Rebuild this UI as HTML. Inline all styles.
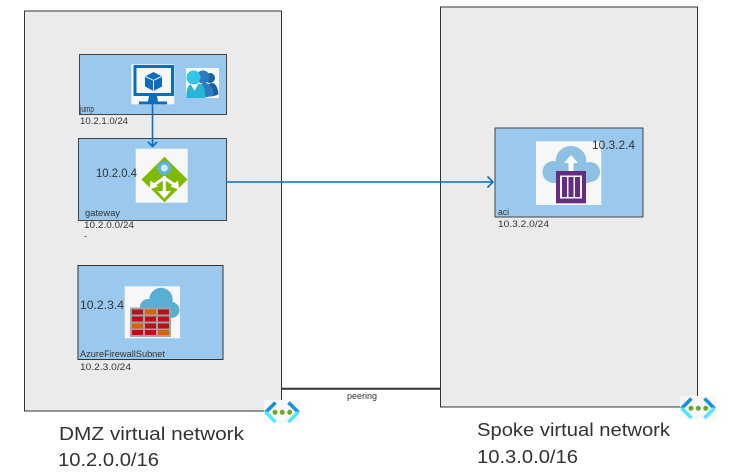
<!DOCTYPE html>
<html><head><meta charset="utf-8"><style>
html,body{margin:0;padding:0;background:#fff;width:731px;height:476px;overflow:hidden}
svg{display:block}
text{font-family:"Liberation Sans",sans-serif;fill:#333}
</style></head><body>
<svg width="731" height="476" viewBox="0 0 731 476" xmlns="http://www.w3.org/2000/svg">
<rect x="24.5" y="11" width="257" height="400" fill="#ebebeb" stroke="#333" stroke-width="1"/>
<rect x="440.5" y="7" width="257" height="400" fill="#ebebeb" stroke="#333" stroke-width="1"/>
<line x1="281" y1="388.7" x2="441" y2="388.7" stroke="#333" stroke-width="2"/>
<text x="347" y="399" font-size="9" textLength="30" lengthAdjust="spacingAndGlyphs" fill="#555">peering</text>

<rect x="79.5" y="54.5" width="147" height="60" fill="#9bc9ee" stroke="#444"/>
<rect x="78.5" y="138.5" width="148" height="82" fill="#9bc9ee" stroke="#444"/>
<rect x="78" y="265.5" width="145" height="94" fill="#9bc9ee" stroke="#333"/>
<rect x="495" y="128" width="148" height="89" fill="#9bc9ee" stroke="#444"/>

<!-- VM -->
<rect x="131.3" y="64.3" width="43" height="40" fill="#f7f7f7"/>
<rect x="135" y="66.500" width="37.500" height="28" fill="#f7f7f7" stroke="#0a6ebd" stroke-width="3"/>
<path d="M149 96h8l1 6h-10z" fill="#0a6ebd"/>
<rect x="139" y="101.500" width="28" height="2.800" fill="#0a6ebd"/>
<path d="M153.500 72l8.500 4.500v10l-8.500 4.500-8.500-4.500v-10z" fill="#0a6ebd"/>
<path d="M145.500 76.500l8 4 8-4M153.500 80.500v10" fill="none" stroke="#f7f7f7" stroke-width="1"/>
<!-- Users -->
<rect x="186" y="68" width="33" height="30" fill="#f2f7fa"/>
<circle cx="210" cy="78" r="5" fill="#1c5f9e"/>
<path d="M205 96c1-8 3-13 7-13s6 6 6.500 11c-2 2-8 3-13.500 2z" fill="#1c5f9e"/>
<circle cx="203" cy="77" r="6.500" fill="#2b7bc0"/>
<path d="M197 97c0-8 3-14 8-14s8 5 9 12c-4 2-10 3-17 2z" fill="#2b7bc0"/>
<circle cx="193.500" cy="77.500" r="7" fill="#32c5e8"/>
<path d="M186.300 98c0-10 2-14 7.200-14.500 6 0 9 .5 10.500 3.500 1 3 1 6 1 11z" fill="#28b4d8"/>
<path d="M190.500 84l4 7 4-7z" fill="#e8f6fb"/>

<!-- Gateway -->
<rect x="135.700" y="148.700" width="52" height="54" fill="#f7f7f7"/>
<path d="M164.500 156.700l23 22.800-23 22.800-23-22.800z" fill="#7fb900"/>
<circle cx="164.300" cy="168" r="7" fill="#59b4d9"/>
<circle cx="164.300" cy="168" r="3.500" fill="#cfeaf5"/>
<path d="M164.300 176v17M164.300 178l-10 6.500M164.300 178l10 6.500" stroke="#fff" stroke-width="3" fill="none"/>
<path d="M157.500 191h13.500l-6.700 7.500zM150.500 180.500l7.500 6-8.500 3zM178 180.500l-7.500 6 8.500 3z" fill="#fff"/>

<!-- Firewall -->
<rect x="124.700" y="286.300" width="55.300" height="52" fill="#f7f7f7"/>
<circle cx="161" cy="299.500" r="11.700" fill="#59aed4"/>
<circle cx="148" cy="307" r="8" fill="#59aed4"/>
<circle cx="171.500" cy="310" r="8" fill="#59aed4"/>
<rect x="140" y="306" width="32" height="12" fill="#59aed4"/>
<rect x="130" y="307.500" width="41" height="29.500" fill="#a3a3a3"/>
<g fill="#b5121b">
<rect x="132" y="309.500" width="11" height="5"/><rect x="158" y="309.500" width="11" height="5"/>
<rect x="132" y="316.500" width="11" height="5"/><rect x="145" y="316.500" width="11" height="5"/><rect x="158" y="316.500" width="11" height="5"/>
<rect x="145" y="323.500" width="11" height="5"/><rect x="158" y="323.500" width="11" height="5"/>
<rect x="132" y="330" width="11" height="5"/><rect x="145" y="330" width="11" height="5"/>
</g>
<g fill="#dc6205">
<rect x="145" y="309.500" width="11" height="5"/><rect x="132" y="323.500" width="11" height="5"/><rect x="158" y="330" width="11" height="5"/>
</g>

<!-- ACI -->
<rect x="536" y="141.300" width="65.300" height="63.700" fill="#f7f7f7"/>
<circle cx="571" cy="161.500" r="15.500" fill="#8dc0e3"/>
<circle cx="553.500" cy="172" r="11" fill="#8dc0e3"/>
<circle cx="590" cy="172" r="10" fill="#8dc0e3"/>
<rect x="553" y="165" width="36" height="18" fill="#8dc0e3"/>
<path d="M571 155l-7 8h4.500v10h5v-10h4.500z" fill="#fff"/>
<rect x="556" y="171" width="30" height="32.300" fill="#652d80"/>
<rect x="560" y="175.500" width="22" height="23" fill="#f7f7f7"/>
<g fill="#652d80"><rect x="562" y="177" width="5" height="20"/><rect x="568.500" y="177" width="5" height="20"/><rect x="575" y="177" width="5" height="20"/></g>

<!-- Connectors -->
<line x1="152.500" y1="104" x2="152.500" y2="146" stroke="#0a6ebd" stroke-width="1.600"/>
<path d="M148 142l4.500 4.500 4.500-4.500" fill="none" stroke="#0a6ebd" stroke-width="1.600"/>
<line x1="226" y1="182" x2="493" y2="182" stroke="#0a6ebd" stroke-width="1.600"/>
<path d="M487.500 176.500l5.500 5.500-5.500 5.500" fill="none" stroke="#0a6ebd" stroke-width="1.600"/>

<!-- VNet icons -->
<g id="v1">
<rect x="264" y="400" width="36" height="23" fill="#f7f7f7"/>
<path d="M275.500 402.500l-10 10" stroke="#1490df" stroke-width="3.500" fill="none"/>
<path d="M265.500 412l10 10" stroke="#50e6ff" stroke-width="3.500" fill="none"/>
<path d="M288.500 402.500l10 10" stroke="#1490df" stroke-width="3.500" fill="none"/>
<path d="M298.500 412l-10 10" stroke="#50e6ff" stroke-width="3.500" fill="none"/>
<circle cx="275" cy="412.300" r="2.500" fill="#6aa82a"/><circle cx="282.300" cy="412.300" r="2.500" fill="#6aa82a"/><circle cx="289.700" cy="412.300" r="2.500" fill="#6aa82a"/>
</g>
<use href="#v1" x="416" y="-4"/>

<!-- Labels -->
<g font-size="9" fill="#444">
<text x="80" y="112" textLength="14" lengthAdjust="spacingAndGlyphs">jump</text>
<text x="80" y="124" textLength="48" lengthAdjust="spacingAndGlyphs">10.2.1.0/24</text>
<text x="85" y="216" textLength="35" lengthAdjust="spacingAndGlyphs">gateway</text>
<text x="84" y="228" textLength="50" lengthAdjust="spacingAndGlyphs">10.2.0.0/24</text>
<text x="84" y="239">-</text>
<text x="80" y="357" textLength="85" lengthAdjust="spacingAndGlyphs">AzureFirewallSubnet</text>
<text x="80" y="370" textLength="51" lengthAdjust="spacingAndGlyphs">10.2.3.0/24</text>
<text x="498" y="215" textLength="11" lengthAdjust="spacingAndGlyphs">aci</text>
<text x="498" y="227" textLength="51" lengthAdjust="spacingAndGlyphs">10.3.2.0/24</text>
</g>
<g font-size="12">
<text x="96" y="177" textLength="41" lengthAdjust="spacingAndGlyphs">10.2.0.4</text>
<text x="80" y="309" textLength="44" lengthAdjust="spacingAndGlyphs">10.2.3.4</text>
<text x="592" y="149" textLength="43" lengthAdjust="spacingAndGlyphs">10.3.2.4</text>
</g>
<g font-size="18" fill="#222">
<text x="59" y="440" textLength="185" lengthAdjust="spacingAndGlyphs">DMZ virtual network</text>
<text x="58" y="466" textLength="101" lengthAdjust="spacingAndGlyphs">10.2.0.0/16</text>
<text x="477" y="436" textLength="193" lengthAdjust="spacingAndGlyphs">Spoke virtual network</text>
<text x="477" y="463" textLength="101" lengthAdjust="spacingAndGlyphs">10.3.0.0/16</text>
</g>
</svg>
</body></html>
